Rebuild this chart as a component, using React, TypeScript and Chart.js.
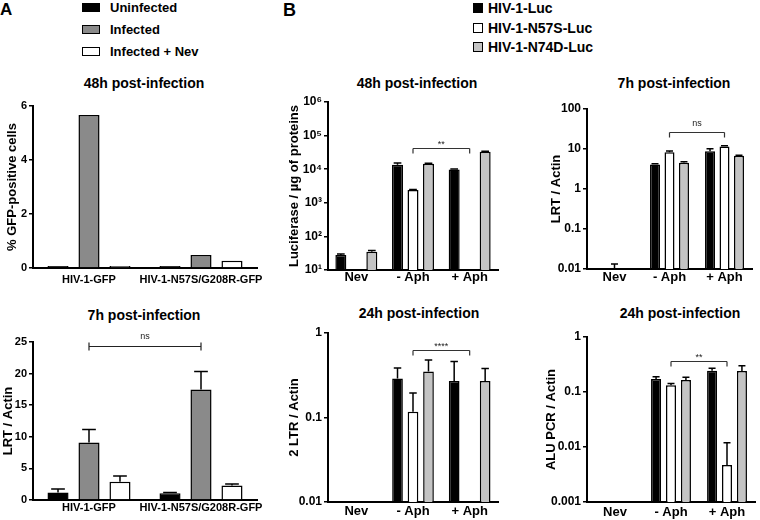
import React, { useEffect, useRef } from 'react';
import { Chart, registerables } from 'chart.js';

Chart.register(...registerables);

const FONT = '"Liberation Sans", Arial, Helvetica, sans-serif';
Chart.defaults.font.family = FONT;
Chart.defaults.color = '#000';

// ---------------- Panel A data ----------------
const legendA = ['Uninfected', 'Infected', 'Infected + Nev'];
const gfpCategories = ['HIV-1-GFP', 'HIV-1-N57S/G208R-GFP'];
const gfpUninfected = [0.07, 0.07];
const gfpInfected = [5.67, 0.48];
const gfpInfectedNev = [0.07, 0.27];
const gfpTicks = [0, 2, 4, 6];

const lrtAUninfected = [1.2, 1.05];
const lrtAUninfectedErr = [0.55, 0.15];
const lrtAInfected = [9.1, 17.5];
const lrtAInfectedErr = [2.05, 2.85];
const lrtAInfectedNev = [2.9, 2.3];
const lrtAInfectedNevErr = [0.9, 0.22];
const lrtATicks = [0, 5, 10, 15, 20, 25];

// ---------------- Panel B data ----------------
const legendB = ['HIV-1-Luc', 'HIV-1-N57S-Luc', 'HIV-1-N74D-Luc'];
const bCategories = ['Nev', '- Aph', '+ Aph'];

const lucWT = [28, 13500, 9800];
const lucWTErr = [2, 1800, 400];
const lucN57S = [null, 2400, null];
const lucN57SErr = [0, 100, 0];
const lucN74D = [35, 14500, 33000];
const lucN74DErr = [3, 500, 1000];
const lucTicks = [10, 100, 1000, 10000, 100000, 1000000];
const lucTickLabels = ['10¹', '10²', '10³', '10⁴', '10⁵', '10⁶'];

const lrtBWT = [null, 4.1, 8.8];
const lrtBWTErr = [0, 0.2, 1.4];
const lrtBN57S = [0.01, 8.3, 11.5];
const lrtBN57SErr = [0.0033, 0.6, 0.5];
const lrtBN74D = [null, 4.5, 6.8];
const lrtBN74DErr = [0, 0.3, 0.2];
const lrtBTicks = [0.01, 0.1, 1, 10, 100];
const lrtBTickLabels = ['0.01', '0.1', '1', '10', '100'];

const ltrWT = [null, 0.29, 0.27];
const ltrWTErr = [0, 0.095, 0.19];
const ltrN57S = [null, 0.117, null];
const ltrN57SErr = [0, 0.078, 0];
const ltrN74D = [null, 0.35, 0.27];
const ltrN74DErr = [0, 0.13, 0.11];
const ltrTicks = [0.01, 0.1, 1];
const ltrTickLabels = ['0.01', '0.1', '1'];

const aluWT = [null, 0.172, 0.244];
const aluWTErr = [0, 0.017, 0.026];
const aluN57S = [null, 0.132, 0.0047];
const aluN57SErr = [0, 0.01, 0.0073];
const aluN74D = [null, 0.165, 0.24];
const aluN74DErr = [0, 0.02, 0.06];
const aluTicks = [0.001, 0.01, 0.1, 1];
const aluTickLabels = ['0.001', '0.01', '0.1', '1'];

const colorsA = ['#000000', '#8a8a8a', '#ffffff'];
const colorsB = ['#000000', '#ffffff', '#c4c4c4'];

// ---------------- plugins ----------------
const errorBarPlugin = {
  id: 'errorBars',
  afterDatasetsDraw(chart: any, _args: any, opts: any) {
    const errs = opts.errors;
    if (!errs) return;
    const y = chart.scales.y;
    const ctx = chart.ctx;
    ctx.save();
    ctx.strokeStyle = '#000';
    ctx.lineWidth = opts.lineWidth || 1.5;
    chart.data.datasets.forEach((ds: any, di: number) => {
      const e = errs[di];
      if (!e) return;
      const meta = chart.getDatasetMeta(di);
      meta.data.forEach((bar: any, i: number) => {
        const v = ds.data[i];
        const ev = e[i];
        if (v == null || !ev) return;
        const yBar = y.getPixelForValue(v);
        const yTop = y.getPixelForValue(v + ev);
        const hw = (bar.width * (opts.cap || 0.65)) / 2;
        ctx.beginPath();
        ctx.moveTo(bar.x, yBar);
        ctx.lineTo(bar.x, yTop);
        ctx.moveTo(bar.x - hw, yTop);
        ctx.lineTo(bar.x + hw, yTop);
        ctx.stroke();
      });
    });
    ctx.restore();
  },
};

const bracketPlugin = {
  id: 'brackets',
  afterDatasetsDraw(chart: any, _args: any, opts: any) {
    const items = opts.items || [];
    const xs = chart.scales.x;
    const ys = chart.scales.y;
    const ctx = chart.ctx;
    items.forEach((b: any) => {
      const x1 = xs.getPixelForValue(b.from);
      const x2 = xs.getPixelForValue(b.to);
      const yy = Math.round(ys.getPixelForValue(b.value)) + 0.5;
      ctx.save();
      ctx.strokeStyle = b.color || '#333';
      ctx.lineWidth = 1.2;
      ctx.beginPath();
      ctx.moveTo(x1, yy);
      ctx.lineTo(x2, yy);
      if (b.style === 'both') {
        ctx.moveTo(x1, yy - 4);
        ctx.lineTo(x1, yy + 4);
        ctx.moveTo(x2, yy - 4);
        ctx.lineTo(x2, yy + 4);
      } else {
        ctx.moveTo(x1, yy);
        ctx.lineTo(x1, yy + 5);
        ctx.moveTo(x2, yy);
        ctx.lineTo(x2, yy + 5);
      }
      ctx.stroke();
      ctx.fillStyle = '#222';
      ctx.font = `${b.bold ? 'bold ' : ''}${b.size || 9}px ${FONT}`;
      ctx.textAlign = 'center';
      ctx.textBaseline = 'middle';
      ctx.fillText(b.label, (x1 + x2) / 2, yy - (b.dy || 8));
      ctx.restore();
    });
  },
};

// ---------------- config builder ----------------
type Box = { L: number; T: number; R: number; B: number; yw: number; xh: number; pt: number; pr: number };

type PanelSpec = {
  box: Box;
  labels: string[];
  series: (number | null)[][];
  errors?: number[][];
  colors: string[];
  yType: 'linear' | 'logarithmic';
  min: number;
  max: number;
  ticks: number[];
  tickLabels?: string[];
  yTitle: string;
  catPct: number;
  barPct: number;
  xPad: number;
  xFont: number;
  yFont: number;
  cap: number;
  brackets?: any[];
};

function buildConfig(p: PanelSpec): any {
  return {
    type: 'bar',
    data: {
      labels: p.labels,
      datasets: p.series.map((d, i) => ({
        data: d,
        backgroundColor: p.colors[i],
        borderColor: '#000',
        borderWidth: 1.5,
        categoryPercentage: p.catPct,
        barPercentage: p.barPct,
      })),
    },
    plugins: [errorBarPlugin, bracketPlugin],
    options: {
      responsive: false,
      animation: false,
      devicePixelRatio: 1,
      layout: { padding: { top: p.box.pt, right: p.box.pr, left: 0, bottom: 0 } },
      plugins: {
        legend: { display: false },
        tooltip: { enabled: false },
        title: { display: false },
        errorBars: { errors: p.errors, cap: p.cap, lineWidth: 1.5 },
        brackets: { items: p.brackets || [] },
      },
      scales: {
        x: {
          type: 'category',
          offset: true,
          grid: { display: false, drawTicks: false, drawOnChartArea: false },
          border: { display: true, color: '#000', width: 2 },
          ticks: {
            color: '#000',
            font: { size: p.xFont, weight: 'bold' },
            padding: p.xPad,
            autoSkip: false,
            maxRotation: 0,
            minRotation: 0,
          },
          afterFit: (s: any) => {
            s.height = p.box.xh;
          },
        },
        y: {
          type: p.yType,
          min: p.min,
          max: p.max,
          grid: { display: true, drawOnChartArea: false, drawTicks: true, tickLength: 4, color: '#000', lineWidth: 1.5 },
          border: { display: true, color: '#000', width: 2 },
          ticks: {
            color: '#000',
            font: { size: p.yFont, weight: 'bold' },
            padding: 2,
            autoSkip: false,
            callback: (v: any, i: number) => (p.tickLabels ? p.tickLabels[i] : String(v)),
          },
          afterBuildTicks: (s: any) => {
            s.ticks = p.ticks.map((v) => ({ value: v }));
          },
          title: {
            display: true,
            text: p.yTitle,
            color: '#000',
            font: { size: 13, weight: 'bold' },
            padding: 0,
          },
          afterFit: (s: any) => {
            s.width = p.box.yw;
          },
        },
      },
    },
  };
}

function ChartPanel({ spec }: { spec: PanelSpec }) {
  const ref = useRef<HTMLCanvasElement>(null);
  const b = spec.box;
  const left = b.L - b.yw;
  const top = b.T - b.pt;
  const width = b.R + b.pr - left;
  const height = b.B + b.xh - top;
  useEffect(() => {
    const chart = new Chart(ref.current as HTMLCanvasElement, buildConfig(spec));
    return () => chart.destroy();
  }, []);
  return (
    <canvas
      ref={ref}
      width={width}
      height={height}
      style={{ position: 'absolute', left, top, width, height }}
    />
  );
}

function Txt({ x, y, size, children, anchor = 'center', weight = 'bold' }: any) {
  return (
    <div
      style={{
        position: 'absolute',
        left: x,
        top: y,
        transform: anchor === 'center' ? 'translate(-50%,-50%)' : 'translate(0,-50%)',
        font: `${weight} ${size}px ${FONT}`,
        lineHeight: 1,
        whiteSpace: 'nowrap',
        color: '#000',
      }}
    >
      {children}
    </div>
  );
}

const specA1: PanelSpec = {
  box: { L: 33, T: 106, R: 257, B: 268, yw: 28, xh: 24, pt: 10, pr: 16 },
  labels: gfpCategories,
  series: [gfpUninfected, gfpInfected, gfpInfectedNev],
  colors: colorsA,
  yType: 'linear',
  min: 0,
  max: 6,
  ticks: gfpTicks,
  yTitle: '% GFP-positive cells',
  catPct: 0.83,
  barPct: 0.68,
  xPad: 5,
  xFont: 11,
  yFont: 11,
  cap: 0.65,
};

const specA2: PanelSpec = {
  box: { L: 33, T: 342, R: 257, B: 500, yw: 32, xh: 20, pt: 10, pr: 16 },
  labels: gfpCategories,
  series: [lrtAUninfected, lrtAInfected, lrtAInfectedNev],
  errors: [lrtAUninfectedErr, lrtAInfectedErr, lrtAInfectedNevErr],
  colors: colorsA,
  yType: 'linear',
  min: 0,
  max: 25,
  ticks: lrtATicks,
  yTitle: 'LRT / Actin',
  catPct: 0.83,
  barPct: 0.68,
  xPad: 1,
  xFont: 11,
  yFont: 11,
  cap: 0.65,
  brackets: [{ from: 0, to: 1, value: 24.4, label: 'ns', style: 'both', dy: 10, color: '#222' }],
};

const specB1: PanelSpec = {
  box: { L: 328, T: 102, R: 498, B: 270, yw: 41, xh: 22, pt: 10, pr: 4 },
  labels: bCategories,
  series: [lucWT, lucN57S, lucN74D],
  errors: [lucWTErr, lucN57SErr, lucN74DErr],
  colors: colorsB,
  yType: 'logarithmic',
  min: 10,
  max: 1000000,
  ticks: lucTicks,
  tickLabels: lucTickLabels,
  yTitle: 'Luciferase / µg of proteins',
  catPct: 0.82,
  barPct: 0.71,
  xPad: 0,
  xFont: 13,
  yFont: 12,
  cap: 0.7,
  brackets: [{ from: 1, to: 2, value: 43000, label: '**', dy: 4 }],
};

const specB2: PanelSpec = {
  box: { L: 587, T: 109, R: 752, B: 269, yw: 38, xh: 22, pt: 10, pr: 4 },
  labels: bCategories,
  series: [lrtBWT, lrtBN57S, lrtBN74D],
  errors: [lrtBWTErr, lrtBN57SErr, lrtBN74DErr],
  colors: colorsB,
  yType: 'logarithmic',
  min: 0.01,
  max: 100,
  ticks: lrtBTicks,
  tickLabels: lrtBTickLabels,
  yTitle: 'LRT / Actin',
  catPct: 0.79,
  barPct: 0.69,
  xPad: 1,
  xFont: 13,
  yFont: 12,
  cap: 0.7,
  brackets: [{ from: 1, to: 2, value: 27, label: 'ns', dy: 9 }],
};

const specB3: PanelSpec = {
  box: { L: 328, T: 333, R: 498, B: 502, yw: 41, xh: 18, pt: 10, pr: 4 },
  labels: bCategories,
  series: [ltrWT, ltrN57S, ltrN74D],
  errors: [ltrWTErr, ltrN57SErr, ltrN74DErr],
  colors: colorsB,
  yType: 'logarithmic',
  min: 0.01,
  max: 1,
  ticks: ltrTicks,
  tickLabels: ltrTickLabels,
  yTitle: '2 LTR / Actin',
  catPct: 0.82,
  barPct: 0.69,
  xPad: 2,
  xFont: 13,
  yFont: 12,
  cap: 0.7,
  brackets: [{ from: 1, to: 2, value: 0.63, label: '****', dy: 4 }],
};

const specB4: PanelSpec = {
  box: { L: 587, T: 337, R: 755, B: 502, yw: 43, xh: 18, pt: 10, pr: 4 },
  labels: bCategories,
  series: [aluWT, aluN57S, aluN74D],
  errors: [aluWTErr, aluN57SErr, aluN74DErr],
  colors: colorsB,
  yType: 'logarithmic',
  min: 0.001,
  max: 1,
  ticks: aluTicks,
  tickLabels: aluTickLabels,
  yTitle: 'ALU PCR / Actin',
  catPct: 0.8,
  barPct: 0.67,
  xPad: 3,
  xFont: 13,
  yFont: 12,
  cap: 0.7,
  brackets: [{ from: 1, to: 2, value: 0.37, label: '**', dy: 4 }],
};

export default function App() {
  return (
    <div
      style={{
        position: 'absolute',
        left: 0,
        top: 0,
        width: 760,
        height: 520,
        background: '#fff',
        overflow: 'hidden',
      }}
    >
      <Txt x={0} y={9} size={17} anchor="left">A</Txt>
      <Txt x={283} y={9.5} size={18} anchor="left">B</Txt>

      {legendA.map((t, i) => (
        <React.Fragment key={t}>
          <div
            style={{
              position: 'absolute',
              left: 82,
              top: 3 + i * 22,
              width: 18,
              height: 9,
              boxSizing: 'border-box',
              border: '1.5px solid #000',
              background: colorsA[i],
            }}
          />
          <Txt x={110} y={7 + i * 22} size={13} anchor="left">{t}</Txt>
        </React.Fragment>
      ))}

      {legendB.map((t, i) => (
        <React.Fragment key={t}>
          <div
            style={{
              position: 'absolute',
              left: 473,
              top: 3 + i * 19.7,
              width: 10,
              height: 10,
              boxSizing: 'border-box',
              border: '1.5px solid #000',
              background: colorsB[i],
            }}
          />
          <Txt x={488} y={8 + i * 19.7} size={14} anchor="left">{t}</Txt>
        </React.Fragment>
      ))}

      <Txt x={144} y={83} size={14}>48h post-infection</Txt>
      <Txt x={144} y={315} size={14}>7h post-infection</Txt>
      <Txt x={417} y={83} size={14}>48h post-infection</Txt>
      <Txt x={674} y={83} size={14}>7h post-infection</Txt>
      <Txt x={419} y={313} size={14}>24h post-infection</Txt>
      <Txt x={680} y={313} size={14}>24h post-infection</Txt>

      <ChartPanel spec={specA1} />
      <ChartPanel spec={specA2} />
      <ChartPanel spec={specB1} />
      <ChartPanel spec={specB2} />
      <ChartPanel spec={specB3} />
      <ChartPanel spec={specB4} />
    </div>
  );
}
